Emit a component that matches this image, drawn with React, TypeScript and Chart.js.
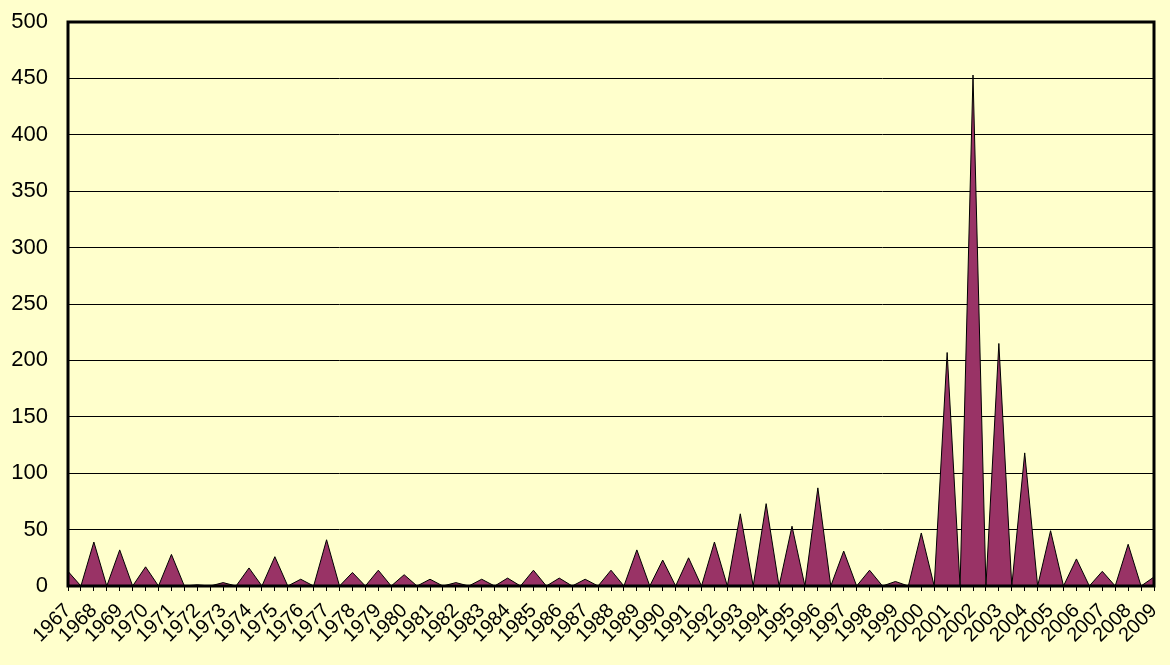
import React, { useEffect, useRef } from "react";
import { Chart, registerables } from "chart.js";

Chart.register(...registerables);

const years: string[] = [
  "1967", "1968", "1969", "1970", "1971", "1972", "1973", "1974", "1975", "1976",
  "1977", "1978", "1979", "1980", "1981", "1982", "1983", "1984", "1985", "1986",
  "1987", "1988", "1989", "1990", "1991", "1992", "1993", "1994", "1995", "1996",
  "1997", "1998", "1999", "2000", "2001", "2002", "2003", "2004", "2005", "2006",
  "2007", "2008", "2009",
];

// One point per year tick plus one in-between point (read as 0 in the picture)
const seriesValues: number[] = [
  13, 0, 39, 0, 32, 0, 17, 0, 28, 0,
  1, 0, 3, 0, 16, 0, 26, 0, 6, 0,
  41, 0, 12, 0, 14, 0, 10, 0, 6, 0,
  3, 0, 6, 0, 7, 0, 14, 0, 7, 0,
  6, 0, 14, 0, 32, 0, 23, 0, 25, 0,
  39, 0, 64, 0, 73, 0, 53, 0, 87, 0,
  31, 0, 14, 0, 4, 0, 47, 0, 207, 0,
  453, 0, 215, 0, 118, 0, 49, 0, 24, 0,
  13, 0, 37, 0, 8,
];

const yTicks: number[] = [0, 50, 100, 150, 200, 250, 300, 350, 400, 450, 500];

const BG = "#FFFFCC";
const FILL = "#993366";
const FONT = "'Liberation Sans', Arial, sans-serif";

export default function App() {
  const canvasRef = useRef<HTMLCanvasElement | null>(null);

  useEffect(() => {
    if (!canvasRef.current) return;
    const categories: string[] = [];
    years.forEach((y, i) => {
      categories.push(y);
      if (i < years.length - 1) categories.push("");
    });

    const frame = {
      id: "plotFrame",
      afterDatasetsDraw(chart: any) {
        const { ctx, chartArea } = chart;
        ctx.save();
        ctx.strokeStyle = "#000";
        ctx.lineWidth = 3;
        ctx.strokeRect(
          chartArea.left,
          chartArea.top,
          chartArea.right - chartArea.left,
          chartArea.bottom - chartArea.top
        );
        ctx.restore();
      },
    };

    const zeroPad = (scale: any) => {
      scale.paddingLeft = 0;
      scale.paddingRight = 0;
      scale.paddingTop = 0;
      scale.paddingBottom = 0;
    };

    const chart = new Chart(canvasRef.current, {
      type: "line",
      data: {
        labels: categories,
        datasets: [
          {
            data: seriesValues,
            fill: "origin",
            backgroundColor: FILL,
            borderColor: "#000",
            borderWidth: 1,
            pointRadius: 0,
            tension: 0,
          },
        ],
      },
      options: {
        animation: false,
        responsive: false,
        devicePixelRatio: 1,
        layout: { padding: { top: 22, right: 16, left: 0, bottom: 0 } },
        plugins: { legend: { display: false }, tooltip: { enabled: false } },
        scales: {
          x: {
            type: "category",
            offset: false,
            border: { display: false },
            grid: {
              drawOnChartArea: false,
              drawTicks: true,
              tickLength: 5,
              color: "#000",
              lineWidth: 1,
            },
            ticks: {
              autoSkip: false,
              maxRotation: 45,
              minRotation: 45,
              padding: 8,
              color: "#000",
              font: { family: FONT, size: 20 },
            },
            afterFit(scale: any) {
              scale.height = 79;
              zeroPad(scale);
            },
          },
          y: {
            min: 0,
            max: 500,
            border: { display: false },
            grid: { color: "#000", lineWidth: 1, drawTicks: false },
            afterBuildTicks(scale: any) {
              scale.ticks = yTicks.map((v) => ({ value: v }));
            },
            ticks: {
              padding: 20,
              color: "#000",
              font: { family: FONT, size: 22 },
            },
            afterFit(scale: any) {
              scale.width = 68;
              zeroPad(scale);
            },
          },
        },
      },
      plugins: [frame],
    });
    return () => chart.destroy();
  }, []);

  return (
    <div
      style={{
        position: "fixed",
        left: 0,
        top: 0,
        width: 1170,
        height: 665,
        background: BG,
      }}
    >
      <canvas ref={canvasRef} width={1170} height={665} />
    </div>
  );
}
